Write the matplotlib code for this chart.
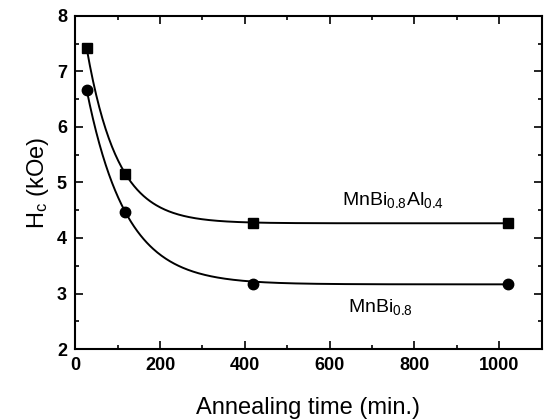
import numpy as np
import matplotlib
matplotlib.use("Agg")
import matplotlib.pyplot as plt
from matplotlib.ticker import MultipleLocator

plt.rcParams['font.family'] = ['Liberation Sans', 'DejaVu Sans']
plt.rcParams['mathtext.fontset'] = 'custom'
plt.rcParams['mathtext.rm'] = 'Liberation Sans'
plt.rcParams['mathtext.it'] = 'Liberation Sans'

time_min = [27, 118, 420, 1020]
hc_mnbial = [7.42, 5.16, 4.27, 4.27]
hc_mnbi = [6.67, 4.47, 3.17, 3.18]

label_mnbial = r"MnBi$_{0.8}$Al$_{0.4}$"
label_mnbi = r"MnBi$_{0.8}$"

fig = plt.figure(figsize=(5.45, 4.19), dpi=100)
ax = fig.add_axes([0.138, 0.167, 0.856, 0.795])


def exp_fit(x, y):
    x = np.asarray(x, float)
    y = np.asarray(y, float)
    y0 = min(y[2:]) - 0.005
    d0, d1 = y[0] - y0, y[1] - y0
    tau = (x[1] - x[0]) / np.log(d0 / d1)
    xs = np.linspace(x[0], x[-1], 400)
    return xs, y0 + d0 * np.exp(-(xs - x[0]) / tau)


for y, m in [(hc_mnbial, 's'), (hc_mnbi, 'o')]:
    xs, ys = exp_fit(time_min, y)
    ax.plot(xs, ys, color='black', lw=1.4)
    ax.plot(time_min, y, m, color='black', ms=7.5, ls='none')

ax.set_xlim(0, 1100)
ax.set_ylim(2, 8)
ax.xaxis.set_major_locator(MultipleLocator(200))
ax.xaxis.set_minor_locator(MultipleLocator(100))
ax.yaxis.set_major_locator(MultipleLocator(1))
ax.yaxis.set_minor_locator(MultipleLocator(0.5))
ax.tick_params(which='both', direction='in', top=True, right=True, width=1.2)
ax.tick_params(which='major', length=6, labelsize=13, pad=6)
ax.tick_params(which='minor', length=3)
for lab in ax.get_xticklabels() + ax.get_yticklabels():
    lab.set_fontweight('bold')
for s in ax.spines.values():
    s.set_linewidth(1.5)

ax.text(750, 4.69, label_mnbial, ha='center', va='center', fontsize=14)
ax.text(720, 2.76, label_mnbi, ha='center', va='center', fontsize=14)

ax.set_xlabel("Annealing time (min.)", fontsize=17, labelpad=16)
ax.set_ylabel(r"H$_c$ (kOe)", fontsize=17, labelpad=4)

fig.savefig("out.png", dpi=100)
